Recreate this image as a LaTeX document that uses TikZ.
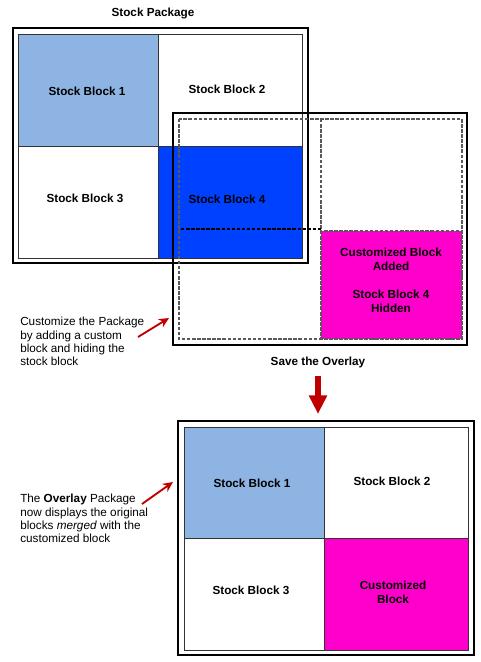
\documentclass[tikz,border=0pt]{standalone}
\usepackage{fontspec}
\setmainfont{Liberation Sans}
\usetikzlibrary{arrows.meta}
\definecolor{stocklight}{RGB}{141,180,227}
\definecolor{stockblue}{RGB}{0,64,255}
\definecolor{custompink}{RGB}{255,0,204}
\definecolor{arrowred}{RGB}{192,0,0}
\tikzset{
  frame/.style={draw=black,line width=1.1pt},
  inframe/.style={draw=gray,line width=0.7pt},
  cellline/.style={draw=black!80,line width=0.4pt},
  overdash/.style={draw=black!65,line width=0.9pt,dash pattern=on 2.6pt off 1.2pt},
  label/.style={font=\bfseries\fontsize{8.8}{10.3}\selectfont,align=center,inner sep=0pt},
  note/.style={font=\fontsize{8.8}{10}\selectfont,align=left,inner sep=0pt,anchor=north west},
  pointer/.style={draw=arrowred,line width=1.4pt,-{Stealth[length=7.5pt,width=7pt]}}
}
\begin{document}
\begin{tikzpicture}[x=0.75pt,y=-0.75pt]
  \useasboundingbox (0,0) rectangle (480,662);
  % stock package
  \node[label] (stocktitle) at (153,13) {Stock Package};
  \draw[frame] (13,28) rectangle (308,263);
  \draw[inframe] (18,34) rectangle (302,258);
  \draw[cellline,fill=stocklight] (18,34) rectangle (158,146);
  \draw[cellline] (158,34) rectangle (302,146);
  \draw[cellline] (18,146) rectangle (158,258);
  \draw[cellline,fill=stockblue] (158,146) rectangle (302,258);
  \node[label] (s1) at (87,91) {Stock Block 1};
  \node[label] (s2) at (227,89) {Stock Block 2};
  \node[label] (s3) at (85,198) {Stock Block 3};
  \node[label] (s4) at (227,199) {Stock Block 4};
  % customized overlay
  \draw[frame] (173,113) rectangle (467,345);
  \draw[fill=custompink,overdash] (321,231) rectangle (462,339);
  \draw[overdash] (179,119) rectangle (462,339);
  \draw[overdash] (321,119) -- (321,339);
  \draw[overdash,draw=black] (181,229) -- (321,229);
  \node[label] (c1) at (391,259) {Customized Block\\Added};
  \node[label] (c2) at (391,301) {Stock Block 4\\Hidden};
  \node[note] (note1) at (20,317) {Customize the Package\\by adding a custom\\block and hiding the\\stock block};
  \coordinate (n1from) at (138,337);
  \coordinate (n1to) at (169,318);
  \draw[pointer] (n1from) -- (n1to);
  % save step
  \node[label] (savetitle) at (318,362) {Save the Overlay};
  \coordinate (savefrom) at (318,376);
  \coordinate (saveto) at (318,414);
  \draw[draw=arrowred,line width=4.6pt,-{Triangle[length=14pt,width=13pt]}] (savefrom) -- (saveto);
  % overlay package
  \draw[frame] (178,421) rectangle (474,655);
  \draw[inframe] (184,427) rectangle (468,650);
  \draw[cellline,fill=stocklight] (184,427) rectangle (324,538);
  \draw[cellline] (324,427) rectangle (468,538);
  \draw[cellline] (184,538) rectangle (324,650);
  \draw[cellline,fill=custompink] (324,538) rectangle (468,650);
  \node[label] (o1) at (252,483) {Stock Block 1};
  \node[label] (o2) at (392,481) {Stock Block 2};
  \node[label] (o3) at (251,590) {Stock Block 3};
  \node[label] (o4) at (393,592) {Customized\\Block};
  \node[note] (note2) at (20,494) {The \textbf{Overlay} Package\\now displays the original\\blocks \textit{merged} with the\\customized block};
  \coordinate (n2from) at (142,504);
  \coordinate (n2to) at (173,482);
  \draw[pointer] (n2from) -- (n2to);
\end{tikzpicture}
\end{document}
